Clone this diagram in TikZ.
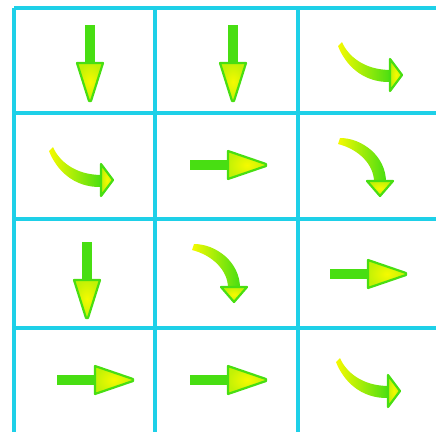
\documentclass[tikz,border=0pt]{standalone}
\definecolor{gridcyan}{RGB}{30,208,232}
\definecolor{arrowgreen}{RGB}{72,222,18}
\definecolor{arrowyellow}{RGB}{246,250,0}

\begin{document}
\begin{tikzpicture}[
    x=1pt, y=-1pt,
    gridline/.style={draw=gridcyan, line width=3.2pt},
    shaft/.style={fill=arrowgreen},
    tipshade/.style={inner color=arrowyellow, outer color=arrowyellow!70!arrowgreen,
        draw=arrowgreen, line width=2.2pt, line join=round},
    bandshade/.style={left color=arrowyellow, right color=arrowgreen},
    down arrow/.pic={
        \fill[shaft] (-5,0) rectangle (5,39);
        \shadedraw[tipshade] (-13,38) -- (13,38) -- (1,76) -- (-1,76) -- cycle;
    },
    right arrow/.pic={
        \fill[shaft] (0,-5) rectangle (39,5);
        \shadedraw[tipshade] (38,-14) -- (38,14) -- (76,1) -- (76,-1) -- cycle;
    },
    hook right/.pic={
        \shade[bandshade] (0,0) .. controls (6,14) and (22,28) .. (49,28)
            -- (49,40) .. controls (20,41) and (3,22) .. (-4,4) -- cycle;
        \shadedraw[tipshade] (48,17) -- (60,33) -- (48,49) -- cycle;
    },
    hook down/.pic={
        \shade[bandshade] (0,-2) .. controls (22,-2) and (46,16) .. (46,42)
            -- (34,42) .. controls (34,24) and (18,9) .. (-2,4) -- cycle;
        \shadedraw[tipshade] (27,41) -- (53,41) -- (40,56) -- cycle;
    },
]
\useasboundingbox (0,0) rectangle (436,432);

% grid
\foreach \gx in {14,155,298}
    \draw[gridline] (\gx,8) -- (\gx,432);
\foreach \gy in {8,113,219,328}
    \draw[gridline] (14,\gy) -- (436,\gy);

% row 1
\pic (a11) at (90,25) {down arrow};
\pic (a12) at (233,25) {down arrow};
\pic (a13) at (342,42) {hook right};
% row 2
\pic (a21) at (53,147) {hook right};
\pic (a22) at (190,165) {right arrow};
\pic (a23) at (340,140) {hook down};
% row 3
\pic (a31) at (87,242) {down arrow};
\pic (a32) at (194,246) {hook down};
\pic (a33) at (330,274) {right arrow};
% row 4
\pic (a41) at (57,380) {right arrow};
\pic (a42) at (190,380) {right arrow};
\pic (a43) at (340,358) {hook right};

\end{tikzpicture}
\end{document}
